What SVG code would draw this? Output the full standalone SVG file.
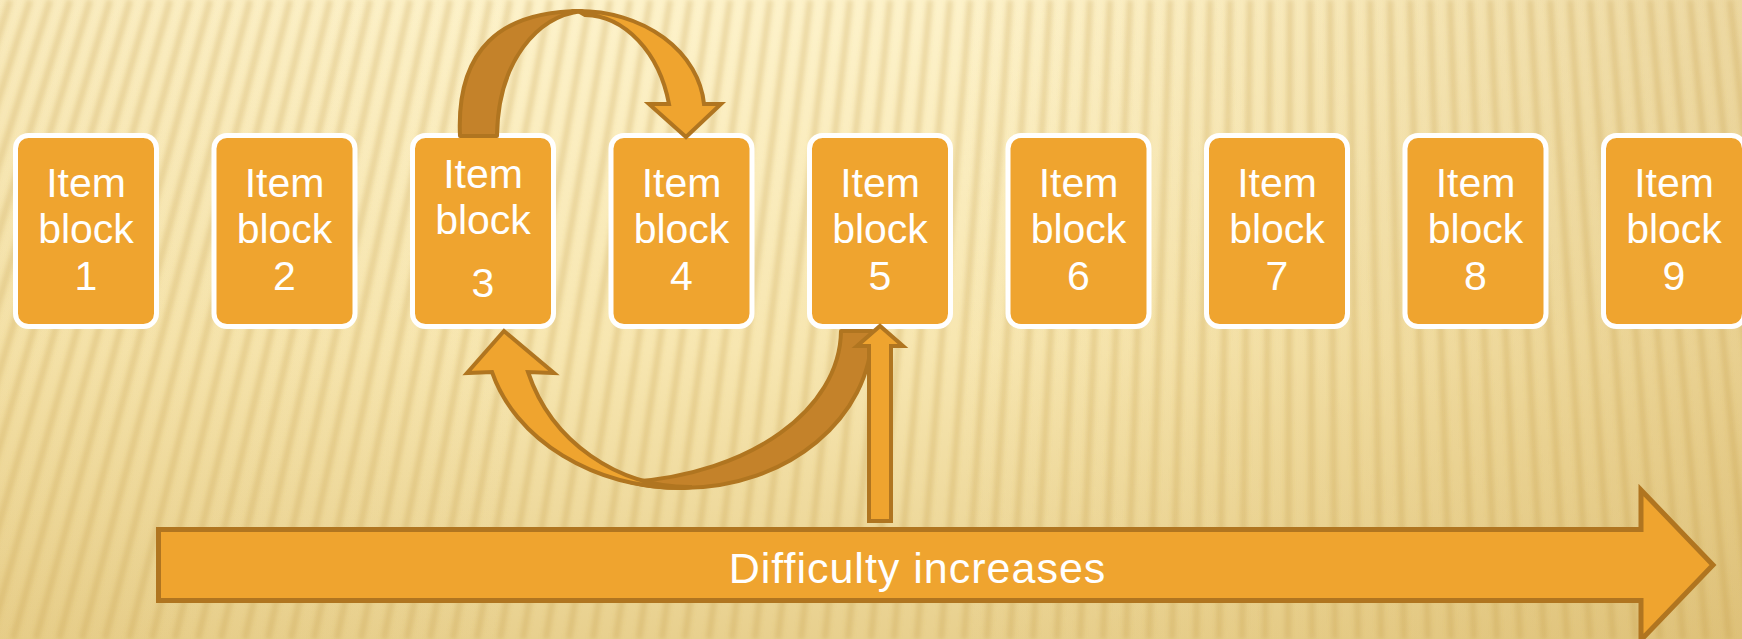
<svg xmlns="http://www.w3.org/2000/svg" width="1742" height="639" viewBox="0 0 1742 639">
  <defs>
    <linearGradient id="bgv" x1="0" y1="0" x2="0" y2="639" gradientUnits="userSpaceOnUse">
      <stop offset="0" stop-color="#FDF2CA"/>
      <stop offset="0.55" stop-color="#F7E6B0"/>
      <stop offset="1" stop-color="#E8D08E"/>
    </linearGradient>
    <linearGradient id="bgh" x1="0" y1="0" x2="1742" y2="0" gradientUnits="userSpaceOnUse">
      <stop offset="0" stop-color="#D9B45A" stop-opacity="0.12"/>
      <stop offset="0.3" stop-color="#D9B45A" stop-opacity="0"/>
      <stop offset="0.55" stop-color="#D9B45A" stop-opacity="0"/>
      <stop offset="1" stop-color="#C9A04A" stop-opacity="0.32"/>
    </linearGradient>
    <filter id="soft" x="-10%" y="-10%" width="120%" height="120%">
      <feGaussianBlur stdDeviation="2.2"/>
    </filter>
    <style>
      .blk { fill: #EFA42F; stroke: #FFFFFF; stroke-width: 5; }
      .lbl { font-family: "Liberation Sans", Arial, sans-serif; font-size: 41px; fill: #FFFFFF; text-anchor: middle; }
      .light { fill: #EFA42F; stroke: #B07520; stroke-width: 4; stroke-linejoin: miter; }
      .dark { fill: #C4822A; stroke: #B07520; stroke-width: 4; stroke-linejoin: round; }
      .stripes { fill: none; stroke: #C39A42; stroke-opacity: 0.26; stroke-width: 7; }
    </style>
  </defs>

  <g id="background">
    <rect x="0" y="0" width="1742" height="639" fill="url(#bgv)"/>
    <rect x="0" y="0" width="1742" height="639" fill="url(#bgh)"/>
    <path class="stripes" filter="url(#soft)" d="M10 0L-196 639M30 0L-173 639M50 0L-150 639M70 0L-126 639M90 0L-103 639M110 0L-80 639M130 0L-57 639M150 0L-34 639M170 0L-10 639M190 0L13 639M210 0L36 639M230 0L59 639M250 0L82 639M270 0L105 639M290 0L129 639M310 0L152 639M330 0L175 639M350 0L198 639M370 0L221 639M390 0L245 639M410 0L268 639M430 0L291 639M450 0L314 639M470 0L337 639M490 0L361 639M510 0L384 639M530 0L407 639M550 0L430 639M570 0L453 639M590 0L477 639M610 0L500 639M630 0L523 639M650 0L546 639M670 0L569 639M690 0L593 639M710 0L616 639M730 0L639 639M750 0L662 639M770 0L685 639M790 0L709 639M810 0L732 639M830 0L755 639M850 0L778 639M870 0L801 639M890 0L825 639M910 0L848 639M930 0L871 639M950 0L894 639M970 0L917 639M990 0L941 639M1010 0L964 639M1030 0L987 639M1050 0L1010 639M1070 0L1033 639M1090 0L1057 639M1110 0L1080 639M1130 0L1103 639M1150 0L1126 639M1170 0L1149 639M1190 0L1172 639M1210 0L1196 639M1230 0L1219 639M1250 0L1242 639M1270 0L1265 639M1290 0L1288 639M1310 0L1312 639M1330 0L1335 639M1350 0L1358 639M1370 0L1381 639M1390 0L1404 639M1410 0L1428 639M1430 0L1451 639M1450 0L1474 639M1470 0L1497 639M1490 0L1520 639M1510 0L1544 639M1530 0L1567 639M1550 0L1590 639M1570 0L1613 639M1590 0L1636 639M1610 0L1660 639M1630 0L1683 639M1650 0L1706 639M1670 0L1729 639M1690 0L1752 639M1710 0L1776 639M1730 0L1799 639"/>
  </g>

  <g id="block-1">
    <rect class="blk" x="15.5" y="135.5" width="141" height="191" rx="13"/>
    <text class="lbl"><tspan x="86" y="197">Item</tspan><tspan x="86" y="243">block</tspan><tspan x="86" y="290">1</tspan></text>
  </g>
  <g id="block-2">
    <rect class="blk" x="214" y="135.5" width="141" height="191" rx="13"/>
    <text class="lbl"><tspan x="284.5" y="197">Item</tspan><tspan x="284.5" y="243">block</tspan><tspan x="284.5" y="290">2</tspan></text>
  </g>
  <g id="block-3">
    <rect class="blk" x="412.5" y="135.5" width="141" height="191" rx="13"/>
    <text class="lbl"><tspan x="483" y="188">Item</tspan><tspan x="483" y="234">block</tspan><tspan x="483" y="297">3</tspan></text>
  </g>
  <g id="block-4">
    <rect class="blk" x="611" y="135.5" width="141" height="191" rx="13"/>
    <text class="lbl"><tspan x="681.5" y="197">Item</tspan><tspan x="681.5" y="243">block</tspan><tspan x="681.5" y="290">4</tspan></text>
  </g>
  <g id="block-5">
    <rect class="blk" x="809.5" y="135.5" width="141" height="191" rx="13"/>
    <text class="lbl"><tspan x="880" y="197">Item</tspan><tspan x="880" y="243">block</tspan><tspan x="880" y="290">5</tspan></text>
  </g>
  <g id="block-6">
    <rect class="blk" x="1008" y="135.5" width="141" height="191" rx="13"/>
    <text class="lbl"><tspan x="1078.5" y="197">Item</tspan><tspan x="1078.5" y="243">block</tspan><tspan x="1078.5" y="290">6</tspan></text>
  </g>
  <g id="block-7">
    <rect class="blk" x="1206.5" y="135.5" width="141" height="191" rx="13"/>
    <text class="lbl"><tspan x="1277" y="197">Item</tspan><tspan x="1277" y="243">block</tspan><tspan x="1277" y="290">7</tspan></text>
  </g>
  <g id="block-8">
    <rect class="blk" x="1405" y="135.5" width="141" height="191" rx="13"/>
    <text class="lbl"><tspan x="1475.5" y="197">Item</tspan><tspan x="1475.5" y="243">block</tspan><tspan x="1475.5" y="290">8</tspan></text>
  </g>
  <g id="block-9">
    <rect class="blk" x="1603.5" y="135.5" width="141" height="191" rx="13"/>
    <text class="lbl"><tspan x="1674" y="197">Item</tspan><tspan x="1674" y="243">block</tspan><tspan x="1674" y="290">9</tspan></text>
  </g>

  <g id="connectors">
    <!-- curved arrow 3 -> 4 over the top -->
    <path class="dark" d="M460 136 C456 50 500 11 582 11 C538 16 498 60 497 136 Z"/>
    <path class="light" d="M578 11 A 126 101 0 0 1 704 104 L721 104 L686 137 L649 104 L669 104 A 88 118 0 0 0 585 15 Z"/>
    <!-- curved arrow 5 -> 3 underneath -->
    <path class="dark" d="M872 331 C872 418 787 488 683 488 C662 488 645 486 630 482 C750 474 840 410 841 331 Z"/>
    <path class="light" d="M528 372 A 170 167 0 0 0 692 487 L683 488 A 198 158 0 0 1 492 372 L467 373 L504 331 L554 373 Z"/>
    <!-- small vertical arrow into block 5 -->
    <path class="light" d="M869 521 L869 346 L857 346 L880 326 L903 346 L891 346 L891 521 Z"/>
  </g>

  <g id="difficulty-arrow">
    <path class="light" style="stroke-width:5" d="M158.5 529.5 L1641 529.5 L1641 490 L1713 565 L1641 640 L1641 600.5 L158.5 600.5 Z"/>
    <text x="917.5" y="583" style="font-family:'Liberation Sans', Arial, sans-serif; font-size:43px; letter-spacing:1px; fill:#FFFFFF; text-anchor:middle;">Difficulty increases</text>
  </g>
</svg>
